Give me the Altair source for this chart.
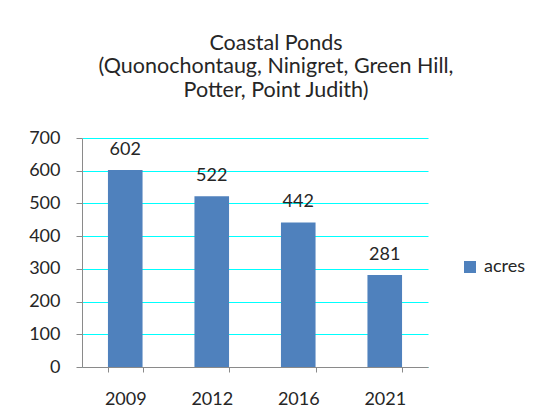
import altair as alt
import pandas as pd

years = ["2009", "2012", "2016", "2021"]
acres = [602, 522, 442, 281]
series = ["acres"] * 4
y_ticks = [0, 100, 200, 300, 400, 500, 600, 700]

df = pd.DataFrame({"year": years, "acres": acres, "series": series})

FONT = "Lato"
TXT = "#262626"
GRID = "#8a8a8a"

base = alt.Chart(df).encode(
    x=alt.X("year:N", sort=years,
            scale=alt.Scale(paddingInner=0.6, paddingOuter=0.3),
            axis=alt.Axis(title=None, labelAngle=0, tickBand="extent",
                          labelFontSize=18, labelFont=FONT, labelColor=TXT,
                          domainColor=GRID, tickColor=GRID, tickSize=5,
                          labelPadding=18, grid=False, gridColor="orange")),
    y=alt.Y("acres:Q", scale=alt.Scale(domain=[0, 700], nice=False),
            axis=alt.Axis(title=None, values=y_ticks, labelOverlap=False,
                          labelFontSize=18, labelFont=FONT, labelColor=TXT,
                          domainColor=GRID, tickColor=GRID, tickSize=6,
                          labelPadding=16, grid=True, gridColor="cyan", gridWidth=1)),
)

bars = base.mark_bar().encode(
    color=alt.Color("series:N", scale=alt.Scale(range=["#4F81BD"]),
                    legend=alt.Legend(title=None, orient="none", legendX=379, legendY=120,
                                      symbolType="square", symbolSize=144,
                                      symbolStrokeWidth=0, labelFontSize=18,
                                      labelFont=FONT, labelColor=TXT, labelOffset=5,
                                      padding=0)),
)

labels = base.mark_text(baseline="bottom", dy=-11, fontSize=18, font=FONT, color=TXT).encode(
    text=alt.Text("acres:Q"),
)

chart = (bars + labels).properties(
    width=346,
    height=229,
    autosize=alt.AutoSizeParams(type="none"),
    padding={"left": 74, "top": 130, "right": 99, "bottom": 41},
    title=alt.Title(
        ["Coastal Ponds", "(Quonochontaug, Ninigret, Green Hill,", "Potter, Point Judith)"],
        fontSize=21.5, font=FONT, fontWeight="normal", color=TXT,
        anchor="middle", dx=21, offset=28, lineHeight=23.5,
    ),
).configure(
    background="white",
    view=alt.ViewConfig(stroke=None),
)

chart.save("out.html", embed_options={"renderer": "svg", "actions": False})
